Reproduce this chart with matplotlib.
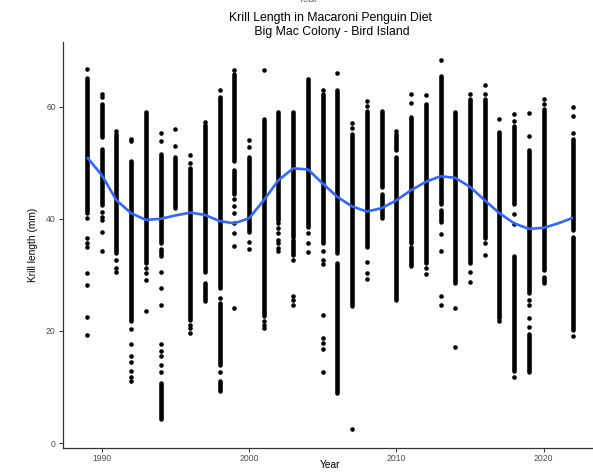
import matplotlib
matplotlib.use("Agg")
import matplotlib.pyplot as plt

plt.rcParams['font.family'] = ['Liberation Sans', 'DejaVu Sans']

# sampling years (no 2021 season)
years = [1989, 1990, 1991, 1992, 1993, 1994, 1995, 1996, 1997, 1998, 1999,
         2000, 2001, 2002, 2003, 2004, 2005, 2006, 2007, 2008, 2009, 2010,
         2011, 2012, 2013, 2014, 2015, 2016, 2017, 2018, 2019, 2020, 2022]

# densely sampled length ranges (mm) per year: (low, high)
dense_ranges = [
    [(41.0, 65.2)],
    [(54.6, 60.5), (42.5, 52.5)],
    [(33.9, 55.2)],
    [(21.7, 50.4)],
    [(32.1, 58.7)],
    [(35.6, 51.6), (33.3, 34.7), (4.3, 10.8)],
    [(41.9, 51.0)],
    [(22.0, 49.0)],
    [(30.6, 56.7), (25.3, 28.5)],
    [(27.6, 61.7), (14.0, 25.0), (9.3, 11.1)],
    [(50.4, 65.8), (44.5, 48.7)],
    [(37.6, 51.0)],
    [(22.6, 57.8)],
    [(39.8, 58.7)],
    [(36.8, 58.7), (33.6, 36.2)],
    [(38.6, 64.6)],
    [(35.6, 62.3)],
    [(33.9, 62.9), (9.0, 32.1)],
    [(24.4, 55.2)],
    [(38.0, 59.3), (35.0, 37.7)],
    [(45.7, 59.2), (40.1, 44.5)],
    [(52.2, 55.2), (25.6, 51.0)],
    [(35.6, 58.1), (31.5, 35.0)],
    [(32.1, 60.5)],
    [(42.7, 65.4), (39.5, 41.6)],
    [(28.5, 58.7)],
    [(32.1, 61.4)],
    [(36.5, 61.4)],
    [(22.3, 55.5)],
    [(42.7, 56.5), (12.9, 33.3)],
    [(26.8, 52.2), (12.6, 19.4)],
    [(30.9, 59.6), (28.5, 29.7)],
    [(38.0, 54.3), (20.2, 36.8)],
]

# isolated krill lengths (mm) per year
single_lengths = [
    [66.7, 40.1, 36.5, 35.6, 35.0, 30.3, 28.2, 22.5, 19.2],
    [62.3, 61.7, 41.3, 40.4, 39.8, 37.7, 34.2],
    [55.6, 32.7, 31.2, 30.5],
    [54.3, 53.9, 20.3, 17.6, 15.6, 14.5, 12.9, 11.7, 11.1],
    [59.0, 31.2, 30.4, 29.1, 23.5],
    [55.3, 53.9, 30.6, 27.7, 24.7, 17.6, 16.4, 15.6, 14.0, 12.6],
    [56.1, 52.9],
    [51.3, 49.9, 21.1, 20.5, 19.7],
    [57.3],
    [63.0, 25.9, 12.6],
    [66.5, 43.6, 42.2, 41.0, 39.2, 37.4, 35.1, 24.1],
    [54.1, 52.8, 35.8, 34.6],
    [66.5, 21.7, 21.1, 20.6],
    [59.0, 39.2, 38.3, 37.4, 36.2, 35.6, 34.8, 34.2],
    [59.1, 32.7, 26.2, 25.6, 24.7],
    [65.0, 37.4, 35.6, 34.0],
    [62.9, 34.2, 32.7, 31.9, 22.9, 18.8, 17.9, 16.7, 12.6],
    [66.0],
    [57.1, 56.2, 2.5],
    [61.0, 60.2, 32.3, 30.3, 29.2],
    [],
    [55.6],
    [62.3, 60.6],
    [62.1, 31.2, 30.2],
    [68.3, 37.3, 34.3, 26.2, 24.6],
    [59.1, 24.1, 17.1],
    [62.2, 30.6, 28.7],
    [63.8, 62.3, 35.6, 33.5],
    [57.8, 21.7],
    [58.7, 57.5, 40.8, 39.1, 11.7],
    [58.9, 54.8, 25.6, 24.7, 22.3, 20.7],
    [61.4, 60.5],
    [60.0, 58.4, 55.3, 19.1],
]

# smoothed trend
smooth_years = list(range(1989, 2023))
smooth_length = [51.0, 47.8, 43.3, 41.0, 39.8, 40.0, 40.6, 41.1, 40.7, 39.6,
                 39.2, 40.1, 43.3, 46.9, 49.0, 48.8, 46.3, 43.9, 42.2, 41.3,
                 41.9, 43.3, 45.1, 46.6, 47.6, 47.3, 45.7, 43.3, 41.0, 39.2,
                 38.2, 38.4, 39.2, 40.2]

W, H = 593, 472
fig = plt.figure(figsize=(W / 100, H / 100), dpi=100)
ax = fig.add_axes([62.7 / W, 24.5 / H, 534.7 / W, 405.8 / H])

dot = 3.3  # point diameter in pt
for yr, ranges, singles in zip(years, dense_ranges, single_lengths):
    for lo, hi in ranges:
        ax.vlines(yr, lo, hi, colors='black', linewidth=dot, capstyle='round')
    if singles:
        ax.scatter([yr] * len(singles), singles, s=dot ** 2, color='black',
                   linewidths=0)

ax.plot(smooth_years, smooth_length, color='#3366FF', linewidth=1.9,
        solid_joinstyle='round', solid_capstyle='butt', zorder=5)

ax.set_xlim(1987.35, 2023.65)
ax.set_ylim(-0.79, 71.59)
ax.set_xticks([1990, 2000, 2010, 2020])
ax.set_yticks([0, 20, 40, 60])

for side in ['top', 'right']:
    ax.spines[side].set_visible(False)
for side in ['left', 'bottom']:
    ax.spines[side].set_color('#333333')
    ax.spines[side].set_linewidth(0.9)
ax.tick_params(colors='#333333', labelcolor='#4D4D4D', labelsize=6.2,
               length=3, width=0.7, pad=2)

ax.set_xlabel('Year', fontsize=7.3, color='black', va='center')
ax.xaxis.set_label_coords(0.5, (447.5 - 464.5) / 405.8)
ax.set_ylabel('Krill length (mm)', fontsize=7.3, color='black', labelpad=6)

fig.text(330 / W, 1 - 25 / H,
         'Krill Length in Macaroni Penguin Diet\n Big Mac Colony - Bird Island',
         ha='center', va='center', multialignment='center', fontsize=8.8,
         linespacing=1.2)
# remnant of the previous figure's axis title at the top edge
fig.text(308 / W, 1 - 2 / H, 'Year', ha='center', va='baseline',
         fontsize=7.3, color='#666666')

fig.savefig('out.png', dpi=100)
